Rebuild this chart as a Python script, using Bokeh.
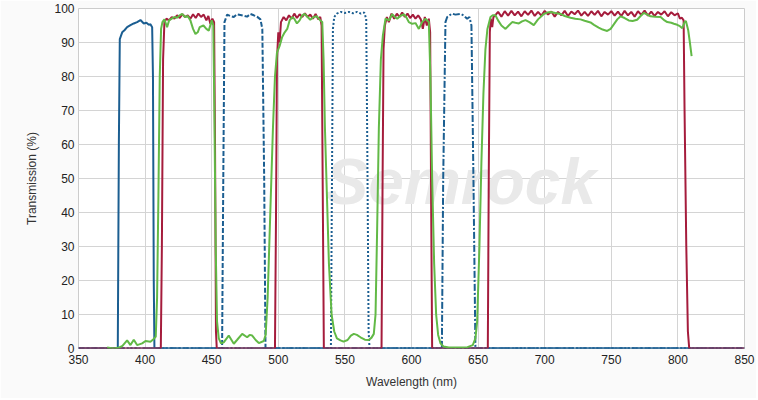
from bokeh.plotting import figure
from bokeh.embed import file_html
from bokeh.resources import INLINE
from bokeh.models import FixedTicker, Range1d
from bokeh.core.properties import value

# ---------------- data ----------------
x_ticks = [350, 400, 450, 500, 550, 600, 650, 700, 750, 800, 850]
y_ticks = [0, 10, 20, 30, 40, 50, 60, 70, 80, 90, 100]

# exciter 1 (solid blue)
blue1_wl = [350, 379.5, 380.3, 381, 382.8, 384.5, 386.5, 389, 391.5, 394, 396.5, 399, 401, 402.8, 404, 405.3, 405.9, 406.5, 407, 850]
blue1_t = [0, 0, 60, 91, 93, 93.6, 94.5, 95.1, 95.6, 96.0, 96.6, 95.6, 95.8, 95.2, 95.4, 94.5, 80, 20, 0, 0]

# exciter 2 (dashed blue)
blue2_wl = [350, 457.8, 458.7, 459.6, 461.6, 464, 466.6, 469, 471.6, 474, 476.6, 479, 481.6, 484, 486.6, 488, 489.4, 490.4, 850]
blue2_t = [0, 0, 50, 96, 98.2, 97.8, 97.5, 98.3, 98.1, 97.9, 97.6, 98.4, 98.0, 97.6, 96.8, 94, 50, 0, 0]

# exciter 3 (dotted blue)
blue3_wl = [350, 539.5, 540.3, 541, 542, 544, 547, 550, 553, 556, 559, 562, 564.5, 566, 566.8, 567.8, 568.5, 850]
blue3_t = [0, 0, 50, 94, 97.5, 98.5, 99, 98.7, 99, 98.6, 99, 98.5, 98.8, 97, 60, 5, 0, 0]

# exciter 4 (dash-dot blue)
blue4_wl = [350, 622.8, 623.8, 625.5, 626.8, 628.5, 630.5, 633, 636.8, 639, 641.8, 643.5, 645, 646.5, 648, 850]
blue4_t = [0, 0, 50, 96, 97.5, 98.0, 98.5, 98.2, 98.4, 98.0, 97.0, 97.5, 95, 50, 0, 0]

# multiband emitter (red)
red_wl = [350, 411.8, 412.6, 413.5, 414.5, 416, 418, 420, 422, 424, 426, 428, 430, 432, 434, 436, 438, 440,
          442, 444, 446, 447.5, 449, 450.5, 451.8, 452.5, 453.2, 453.8,
          497.5, 498.3, 499, 500, 501, 502, 504, 506, 508, 510, 512, 514, 516, 518, 520, 522, 524, 526, 528,
          530, 531.5, 532.5, 533.3, 534.2,
          577.5, 578.3, 579, 580, 581.5, 583, 585, 587, 589, 591, 593, 595, 597, 599, 601, 603, 605, 607,
          608.5, 610, 611.5, 613, 614, 614.8, 615.5,
          657.3, 658, 658.8, 659.5, 660.6, 661.5, 662.5, 665, 667.5, 670, 672.5, 675, 677.5, 680, 682.5, 685,
          687.5, 690, 692.5, 695, 697.5, 700, 702.5, 705, 707.5, 710, 712.5, 715, 717.5, 720, 722.5, 725,
          727.5, 730, 732.5, 735, 737.5, 740, 742.5, 745, 747.5, 750, 752.5, 755, 757.5, 760, 762.5, 765,
          767.5, 770, 772.5, 775, 777.5, 780, 782.5, 785, 787.5, 790, 792.5, 795, 797.5, 800, 801.5, 803,
          804.3, 805, 806.3, 807.5, 808.5, 850]
red_t = [0, 0, 30, 85, 96, 97, 96.5, 97.5, 97, 98, 97.2, 98.3, 97.5, 98, 97, 98.3, 97.2, 98.5,
         97.5, 98.2, 96.5, 97.8, 95.5, 97, 96, 60, 5, 0,
         0, 40, 85, 93, 90, 96, 97.5, 96.5, 98, 97, 98.5, 97.2, 98.3, 97.5, 98.6, 97.5, 98.2, 97, 98.4,
         96.8, 97.5, 95, 50, 0,
         0, 50, 88, 95, 97.5, 96, 98.5, 97, 98.5, 97.5, 98.8, 97.5, 98.5, 97.2, 98.2, 97, 98, 96.8,
         94, 97.5, 95, 97, 93, 40, 0,
         0, 50, 93, 97, 94.5, 97.5, 97.8, 99.0, 97.6, 99.2, 97.9, 99.3, 98.0, 99.1, 97.7, 99.2,
         98.1, 99.4, 97.8, 99.0, 97.9, 99.3, 98.2, 99.1, 97.6, 99.0, 98.0, 99.3, 97.8, 99.1, 98.3, 99.4,
         97.9, 99.0, 97.8, 99.2, 98.1, 99.3, 97.7, 99.0, 98.2, 99.2, 97.9, 99.1, 97.8, 99.3, 98.0, 99.0,
         97.6, 99.2, 98.1, 99.4, 97.9, 99.1, 97.8, 99.0, 98.2, 99.2, 97.7, 98.9, 98.0, 98.6, 97, 97.3,
         96.5, 70, 30, 5, 0, 0]

# second emitter (green)
green_wl = [371.5, 376, 380, 383, 386.5, 389, 391.5, 394, 397.8, 400.3, 404, 406.5, 408, 409, 410, 411, 412,
            413, 414.5, 416.5, 418, 420, 422, 424, 426, 427.8, 430, 432, 434, 436, 437.8, 439.5, 441,
            443.8, 446, 447.8, 450, 451.2, 452, 453, 454, 455.3, 457, 459, 462.8, 466.6, 469, 472.9,
            476.6, 478.5, 480.4, 483, 485.4, 489.1, 490.5, 492, 494, 496, 497.5, 499, 501, 502.9, 504.8,
            506.7, 508.5, 510.4, 512, 514, 516, 518, 519.7, 522, 524, 526.5, 529, 531.5, 533, 534, 535,
            536.5, 538, 540, 542, 544, 546.7, 549, 552, 554.5, 556.7, 559, 561.7, 565, 567.9, 570, 571.7,
            573, 574.2, 575.5, 577, 578.5, 580.5, 583, 585.5, 587.5, 589.3, 591.5, 594.2, 596, 598,
            600.5, 603, 605.5, 608, 610.5, 613, 614.2, 615.5, 617, 618.5, 620, 621.8, 624, 628, 635, 642,
            646, 648, 649.3, 651, 652.5, 654, 655.5, 657, 659.3, 661, 663, 665, 667.5, 670.6, 673, 675.6,
            678, 680.6, 683, 685.6, 688.5, 691.8, 695, 699.3, 702, 704.4, 708, 711.9, 715, 719.4, 723,
            726.9, 730, 734.4, 737, 740.5, 743.5, 746.9, 749.5, 752, 754.5, 757, 760, 763.1, 766, 769.4,
            772, 774.4, 777, 779.4, 783, 787, 790, 792, 795, 797, 799.5, 801.5, 803.3, 805, 806, 807.7,
            809, 810.3]
green_t = [0.3, 0, 0.2, 0.8, 2.4, 1.0, 2.6, 1.0, 1.5, 2.2, 2.0, 2.8, 3.5, 15, 45, 80, 94,
           96, 96.8, 94.5, 96.5, 97, 97.5, 97.3, 98, 98.4, 97.5, 97.8, 96.5, 94, 92.5, 93, 94.5,
           95, 94, 93.5, 96.5, 95, 70, 30, 8, 3, 1.5, 1.8, 3.8, 1.4, 2.5, 4.3,
           3.3, 4.0, 3.8, 2.5, 1.6, 2.2, 4, 15, 40, 65, 80, 87, 89, 91.6, 93,
           94, 96.5, 97.5, 97, 95.6, 96.5, 98, 98.4, 97.5, 96.7, 97.5, 97.7, 96.5, 96, 85, 65,
           45, 25, 10, 5, 3, 2.4, 2.0, 2.5, 3.8, 4.3, 4.0, 3.3, 2.6, 2.5, 3.2, 4.3,
           10, 35, 65, 85, 92, 97, 96.5, 98.3, 97.5, 97, 97.8, 98.3, 97.5, 96,
           95.5, 95.7, 94, 96, 97, 96, 80, 50, 25, 10, 4, 1.5, 0.6, 0.3, 0.3, 0.4,
           1, 3, 8, 30, 55, 75, 88, 94, 97.5, 98, 98, 96.5, 95, 94, 95, 96,
           95.8, 95.6, 96.2, 96.6, 96, 95.1, 96.8, 98.4, 98.8, 99, 98.7, 98.4, 97.8, 97.3, 97,
           96.8, 96.4, 95.9, 95.2, 94.4, 93.8, 93.4, 94.0, 95.4, 96.8, 97.7, 97.2, 96.5, 96.3, 96.7,
           97.8, 98.7, 98.2, 97.7, 97.6, 97.5, 96.5, 96, 95.8, 95.5, 95.2, 94.8, 94.2, 96, 96.3, 93.7,
           90, 86]

BLUE = "#1b5e91"
RED = "#a51c3c"
GREEN = "#62b946"
FONT = "Liberation Sans"

p = figure(width=756, height=398, output_backend="svg", toolbar_location=None,
           x_range=Range1d(350, 850), y_range=Range1d(0, 100),
           min_border_left=78, min_border_right=12, min_border_top=8, min_border_bottom=50)

p.background_fill_color = "white"
p.border_fill_color = "#fafafa"
p.outline_line_color = "#cccccc"
p.outline_line_width = 1

# watermark
p.text(x=[637], y=[49], text=["Semrock"], text_font=value(FONT), text_font_style="bold italic",
       text_font_size="64px", text_color="#e9e9e9", text_align="center", text_baseline="middle")

p.line(blue1_wl, blue1_t, line_color=BLUE, line_width=2)
p.line(blue2_wl, blue2_t, line_color=BLUE, line_width=2, line_dash="5 2")
p.line(blue3_wl, blue3_t, line_color=BLUE, line_width=2, line_dash="2 2")
p.line(blue4_wl, blue4_t, line_color=BLUE, line_width=2, line_dash="7 2 2 2")
p.line(red_wl, red_t, line_color=RED, line_width=2)
p.line(green_wl, green_t, line_color=GREEN, line_width=2)

p.xaxis.ticker = FixedTicker(ticks=x_ticks)
p.yaxis.ticker = FixedTicker(ticks=y_ticks)
p.xaxis.axis_label = "Wavelength (nm)"
p.yaxis.axis_label = "Transmission (%)"
for ax in (p.xaxis[0], p.yaxis[0]):
    ax.axis_line_color = None
    ax.major_tick_line_color = None
    ax.minor_tick_line_color = None
    ax.major_tick_out = 0
    ax.major_tick_in = 0
    ax.minor_tick_out = 0
    ax.minor_tick_in = 0
    ax.major_label_text_font = FONT
    ax.major_label_text_font_size = "12px"
    ax.major_label_text_color = "#222222"
    ax.axis_label_text_font = FONT
    ax.axis_label_text_font_size = "12px"
    ax.axis_label_text_font_style = "normal"
    ax.axis_label_text_color = "#333333"
p.xaxis.major_label_standoff = 6
p.xaxis.axis_label_standoff = 8
p.yaxis.major_label_standoff = 4
p.yaxis.axis_label_standoff = 12

p.xgrid.grid_line_color = "#d4d4d4"
p.ygrid.grid_line_color = "#d4d4d4"
p.xgrid.grid_line_width = 1
p.ygrid.grid_line_width = 1

open("out.html", "w").write(file_html(p, INLINE))
